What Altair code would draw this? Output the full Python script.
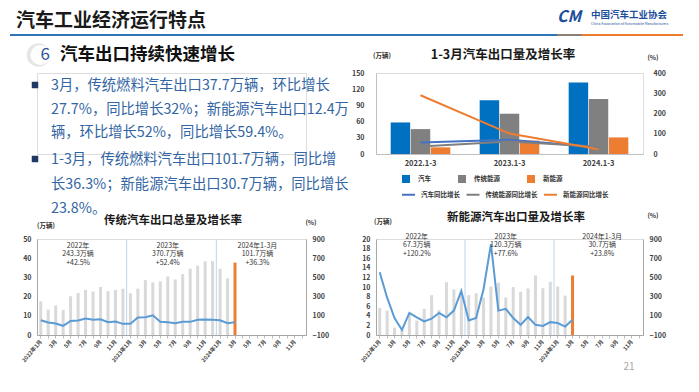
import altair as alt
import pandas as pd

FONT = "Noto Sans CJK SC"

# ---------------- text content ----------------
header_title = "汽车工业经济运行特点"
section_no = "6"
section_title = "汽车出口持续快速增长"
bullet1 = ["3月，传统燃料汽车出口37.7万辆，环比增长",
           "27.7%，同比增长32%；新能源汽车出口12.4万",
           "辆，环比增长52%，同比增长59.4%。"]
bullet2 = ["1-3月，传统燃料汽车出口101.7万辆，同比增",
           "长36.3%；新能源汽车出口30.7万辆，同比增长",
           "23.8%。"]
org_cn = "中国汽车工业协会"
org_en = "China Association of Automobile Manufacturers"
page_no = "21"

# ---------------- top-right chart data ----------------
periods = ["2022.1-3", "2023.1-3", "2024.1-3"]
bar_series = ["汽车", "传统能源", "新能源"]
line_series = ["汽车同比增长", "传统能源同比增长", "新能源同比增长"]
total_q1 = [58.4, 99.4, 132.4]
trad_q1 = [46.1, 74.6, 101.7]
nev_q1 = [12.3, 24.8, 30.7]
total_growth_q1 = [57, 70, 33]
trad_growth_q1 = [37, 62, 36.3]
nev_growth_q1 = [290, 101, 23.8]
bar_colors = ["#0070c0", "#808080", "#ed7d31"]
line_colors = ["#4472c4", "#7f7f7f", "#ed7d31"]

# ---------------- monthly data ----------------
years = ["2022", "2023", "2024"]
months = [f"{y}-{m:02d}" for y in years for m in range(1, 13)]
latest_month = "2024-03"
trad_monthly = [17.5, 13.2, 15.4, 13.0, 20.2, 21.9, 23.5, 22.6, 25.0, 22.8, 23.5, 24.1,
                21.7, 24.1, 28.6, 27.4, 27.9, 30.5, 28.9, 31.7, 34.6, 36.1, 38.4, 38.5,
                34.5, 29.5, 37.7]
trad_growth = [54, 30, 20, -4, 47, 51, 71, 58, 64, 34, 40, 16,
               16, 82, 85, 105, 37, 34, 23, 37, 37, 58, 61, 58,
               54, 23, 32]
nev_monthly = [5.65, 5.1, 1.55, 1.1, 4.3, 3.0, 5.45, 8.3, 5.2, 11.0, 9.5, 8.5,
               8.3, 8.7, 7.8, 10.1, 10.9, 7.8, 10.0, 9.0, 9.7, 12.4, 9.75, 11.1,
               10.1, 8.2, 12.4]
nev_growth = [554, 289, 77, -47, 130, 84, 41, 70, 130, 84, 154, 359,
              52, 77, 377, 847, 154, 172, 77, 6, 87, 6, -5, 34,
              24, -12, 59]
year_breaks = ["2023-01", "2024-01"]
ann_anchor_trad = ["2022-06", "2023-06", "2024-06"]
ann_anchor_nev = ["2022-06", "2023-06", "2024-07"]
ann_trad = ["2022年|243.3万辆|+42.5%", "2023年|370.7万辆|+52.4%", "2024年1-3月|101.7万辆|+36.3%"]
ann_nev = ["2022年|67.3万辆|+120.2%", "2023年|120.3万辆|+77.6%", "2024年1-3月|30.7万辆|+23.8%"]

AXIS_GRAY = "#a6a6a6"
LABEL = "#404040"

one = pd.DataFrame({"k": [0]})


def txt(text, x, y, size, color, weight="normal", align="left", baseline="middle",
        lh=None, style=None):
    kw = dict(fontSize=size, color=color, fontWeight=weight, align=align,
              baseline=baseline, font=FONT)
    if lh:
        kw["lineHeight"] = lh
        kw["lineBreak"] = "|"
    if style:
        kw["fontStyle"] = style
    return alt.Chart(one).mark_text(**kw).encode(
        x=alt.value(x), y=alt.value(y), text=alt.value(text))


# ---------------- text panel (grid cell 0,0 ; origin page (36,71)) ----------------
anchor = alt.Chart(one).mark_square(size=1, color="white", opacity=0).encode(
    x=alt.value(-27.5), y=alt.value(-62.5))
hline_blue = alt.Chart(one).mark_rule(color="#2e75b6", strokeWidth=2).encode(
    x=alt.value(-27), x2=alt.value(520), y=alt.value(-38))
hline_mid = alt.Chart(one).mark_rule(color="#8a7f75", strokeWidth=2).encode(
    x=alt.value(520), x2=alt.value(545), y=alt.value(-38))
hline_orange = alt.Chart(one).mark_rule(color="#ed7d31", strokeWidth=2).encode(
    x=alt.value(545), x2=alt.value(646), y=alt.value(-38))
circle_shadow = alt.Chart(one).mark_circle(size=560, color="#e6e6e6", opacity=1).encode(
    x=alt.value(1.5), y=alt.value(-18))
circle = alt.Chart(one).mark_circle(size=400, color="white", opacity=1).encode(
    x=alt.value(3.5), y=alt.value(-18))
sq1 = alt.Chart(one).mark_square(size=42, color="#1f3864", opacity=1).encode(
    x=alt.value(-2), y=alt.value(12))
sq2 = alt.Chart(one).mark_square(size=42, color="#1f3864", opacity=1).encode(
    x=alt.value(-2), y=alt.value(86))

text_panel = alt.layer(
    anchor,
    hline_blue, hline_mid, hline_orange,
    txt(header_title, -21, -52.5, 19, "#1a1a1a", weight="bold"),
    txt("CM", 520, -56, 16, "#1d4e9a", weight="bold", style="italic"),
    txt(org_cn, 554, -58, 9.5, "#1d4e9a", weight="bold"),
    txt(org_en, 554, -49, 3.5, "#1d4e9a"),
    circle_shadow, circle,
    txt(section_no, 3.5, -18, 17, "#2f5597"),
    txt(section_title, 23, -18, 17.5, "#111111", weight="bold"),
    sq1, sq2,
    txt("|".join(bullet1), 14, 17, 14.3, "#3265a3", baseline="alphabetic", lh=23.5),
    txt("|".join(bullet2), 14, 91, 14.3, "#3265a3", baseline="alphabetic", lh=24.5),
).properties(width=269, height=81)

# ---------------- top-right chart ----------------
top_bar_df = pd.DataFrame({
    "p": periods * 3,
    "s": [s for s in bar_series for _ in periods],
    "v": total_q1 + trad_q1 + nev_q1,
})
top_line_df = pd.DataFrame({
    "p": periods * 3,
    "s": [s for s in line_series for _ in periods],
    "g": total_growth_q1 + trad_growth_q1 + nev_growth_q1,
})


def top_x():
    return alt.X("p:N", scale=alt.Scale(domain=periods, paddingInner=0.33, paddingOuter=0.165),
                 axis=alt.Axis(title=None, labelAngle=0, ticks=False, labelFontSize=7.5,
                               labelFontWeight="bold", labelColor=LABEL, domainColor="#bfbfbf",
                               labelPadding=5))


top_bars = alt.Chart(top_bar_df).mark_bar().encode(
    x=top_x(),
    xOffset=alt.XOffset("s:N", scale=alt.Scale(domain=bar_series, paddingInner=0.03)),
    y=alt.Y("v:Q", scale=alt.Scale(domain=[0, 150], nice=False),
            axis=alt.Axis(title=None, values=[0, 30, 60, 90, 120, 150], grid=False, ticks=False,
                          orient="left", domainColor="#bfbfbf", labelFontSize=7,
                          labelFontWeight="bold", labelColor=LABEL, labelPadding=12)),
    color=alt.Color("s:N", scale=alt.Scale(domain=bar_series, range=bar_colors),
                    legend=alt.Legend(title=None, orient="none", legendX=364, legendY=101,
                                      direction="horizontal", columns=3,
                                      symbolType="square", symbolSize=64,
                                      labelFontSize=6.5, labelFont=FONT,
                                      labelExpr="pad(datum.label, 4, '\u3000')",
                                      labelFontWeight="bold", labelColor="#333333",
                                      columnPadding=26, labelOffset=7)),
)
top_lines = alt.Chart(top_line_df).mark_line(strokeWidth=2).encode(
    x=top_x(),
    y=alt.Y("g:Q", scale=alt.Scale(domain=[0, 400], nice=False),
            axis=alt.Axis(title=None, values=[0, 100, 200, 300, 400], grid=False, ticks=False,
                          orient="right", domain=False, labelFontSize=7,
                          labelFontWeight="bold", labelColor=LABEL, labelPadding=10)),
    stroke=alt.Stroke("s:N", scale=alt.Scale(domain=line_series, range=line_colors),
                      legend=alt.Legend(title=None, orient="none", legendX=364, legendY=114,
                                        direction="horizontal", columns=3,
                                        symbolType="stroke", symbolSize=169,
                                        symbolStrokeWidth=2, labelFontSize=6.5, labelFont=FONT,
                                        labelExpr="pad(datum.label, 8, '\u3000')",
                                        labelFontWeight="bold", labelColor="#333333",
                                        columnPadding=2.5, labelOffset=5)),
)
top_chart = alt.layer(
    top_bars, top_lines,
    txt("1-3月汽车出口量及增长率", 127, -18, 12.5, "#1a1a1a", weight="bold", align="center"),
    txt("(万辆)", 6, -17, 6.5, "#333333", weight="bold", align="center"),
    txt("(%)", 277, -15, 6.5, "#333333", weight="bold", align="center"),
).resolve_scale(y="independent").properties(width=267, height=81)

# ---------------- monthly charts ----------------
label_expr = ("toNumber(substring(datum.value,5,7)) % 2 == 1 ? "
              "(toNumber(substring(datum.value,5,7)) == 1 ? substring(datum.value,0,4) + '年1月' : "
              "toNumber(substring(datum.value,5,7)) + '月') : ''")


def month_x(**kw):
    return alt.X("m:N", scale=alt.Scale(domain=months, paddingInner=0, paddingOuter=0),
                 axis=alt.Axis(title=None, labelExpr=label_expr, labelAngle=-50,
                               labelFontSize=5.5, labelFontWeight="bold", labelColor=LABEL,
                               ticks=True, tickSize=3, tickColor="#bfbfbf",
                               domainColor=AXIS_GRAY, labelPadding=2, labelOverlap=False),
                 **kw)


def monthly_panel(vals, growth, y_max, y_vals, title, title_xy, unit_xy, pct_xy,
                  anchors, ann_text, ann_y, extra=None):
    df = pd.DataFrame({"m": months[:len(vals)], "v": vals, "g": growth})
    df["hl"] = [1 if m == latest_month else 0 for m in df["m"]]
    bars = alt.Chart(df).mark_bar(width=3).encode(
        x=month_x(),
        y=alt.Y("v:Q", scale=alt.Scale(domain=[0, y_max], nice=False),
                axis=alt.Axis(title=None, values=y_vals, grid=False, ticks=False, orient="left",
                              domainColor=AXIS_GRAY, labelFontSize=7, labelFontWeight="bold",
                              labelColor=LABEL, labelPadding=6)),
        color=alt.condition("datum.hl == 1", alt.value("#ed7d31"), alt.value("#d9d9d9")),
    )
    seps = alt.Chart(pd.DataFrame({"m": year_breaks})).mark_rule(
        color="#bdd7ee", strokeWidth=1).encode(x=month_x(bandPosition=0))
    line = alt.Chart(df).mark_line(color="#5b9bd5", strokeWidth=2).encode(
        x=month_x(),
        y=alt.Y("g:Q", scale=alt.Scale(domain=[-100, 900], nice=False),
                axis=alt.Axis(title=None, values=[-100, 100, 300, 500, 700, 900], grid=False,
                              ticks=False, orient="right", domainColor=AXIS_GRAY,
                              labelFontSize=7, labelFontWeight="bold", labelColor=LABEL,
                              labelPadding=6)),
    )
    ann = alt.Chart(pd.DataFrame({"m": anchors, "t": ann_text})).mark_text(
        lineBreak="|", lineHeight=8.5, baseline="top", align="center", fontSize=7,
        color="#333333", font=FONT).encode(x=month_x(), y=alt.value(ann_y), text="t:N")
    layers = [seps, bars, line, ann,
              txt(title, title_xy[0], title_xy[1], 11.5, "#1a1a1a", weight="bold",
                  align="center"),
              txt("(万辆)", unit_xy[0], unit_xy[1], 6.5, "#333333", weight="bold",
                  align="center"),
              txt("(%)", pct_xy[0], pct_xy[1], 6.5, "#333333", weight="bold", align="center")]
    if extra is not None:
        layers.append(extra)
    return alt.layer(*layers).resolve_scale(y="independent")


bottom_left = monthly_panel(
    trad_monthly, trad_growth, 50, [0, 10, 20, 30, 40, 50], "传统汽车出口总量及增长率",
    (136, -18), (9, -13), (274, -16), ann_anchor_trad, ann_trad, 2.5,
).properties(width=269, height=96)

bottom_right = monthly_panel(
    nev_monthly, nev_growth, 20, list(range(0, 21, 2)), "新能源汽车出口量及增长率",
    (140, -21), (7, -17), (277, -23), ann_anchor_nev, ann_nev, -6.5,
    extra=txt(page_no, 253, 128, 10, "#a6a6a6", align="center"),
).properties(width=267, height=96)

chart = alt.concat(
    text_panel, top_chart, bottom_left, bottom_right,
    columns=2, spacing={"row": 85, "column": 70}, bounds="flush",
).properties(padding=0).configure_view(
    stroke="transparent", strokeWidth=0).configure(font=FONT)

chart.save("out.html", embed_options={"renderer": "svg", "actions": False})
